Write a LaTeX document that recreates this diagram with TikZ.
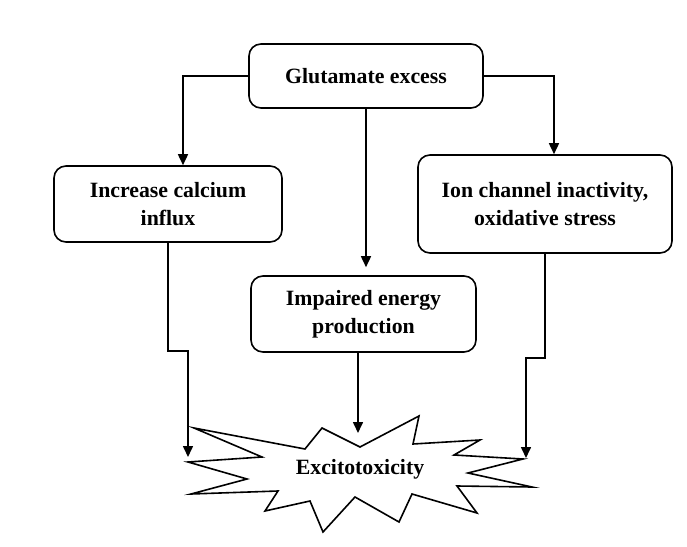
\documentclass[tikz,border=0pt]{standalone}
\usepackage{fontspec}
\setmainfont{Liberation Serif}
\usetikzlibrary{arrows.meta}
\begin{document}
\begin{tikzpicture}[x=0.5pt,y=-0.5pt,line width=0.8pt,
        box/.style={draw,rounded corners=6pt,align=center,font=\fontsize{10.9}{14}\selectfont\bfseries},
        arrow/.style={-{Triangle[length=5.5pt,width=5pt]}}]
    \useasboundingbox (0,0) rectangle (687,547);
    % boxes
    \node[box,minimum width=117pt,minimum height=32pt] (glut) at (366,76) {Glutamate excess};
    \node[box,minimum width=114pt,minimum height=38pt] (calc) at (168,204) {Increase calcium\\influx};
    \node[box,minimum width=127pt,minimum height=49pt] (ion) at (545,204) {Ion channel inactivity,\\oxidative stress};
    \node[box,minimum width=112.5pt,minimum height=38pt] (imp) at (363.5,314) {Impaired energy\\production};
    % starburst
    \draw (194,428) -- (305,449) -- (322,428) -- (360,447) -- (419,416) -- (413,444)
        -- (480,440) -- (454,455) -- (523,459) -- (468,473) -- (532,487) -- (457,486)
        -- (477,513) -- (412,494) -- (399,522) -- (355,497) -- (323,532) -- (310,501)
        -- (265,511) -- (278,491) -- (191,494) -- (247,479) -- (188,462) -- (262,457) -- cycle;
    \node[font=\fontsize{10.9}{14}\selectfont\bfseries] (excito) at (360,469) {Excitotoxicity};
    \coordinate (tipL) at (188,457);
    \coordinate (tipC) at (358,433);
    \coordinate (tipR) at (526,458);
    % connectors
    \draw[arrow] (glut.west) -| ([xshift=7.5pt]calc.north);
    \draw[arrow] (glut.east) -| ([xshift=4.5pt]ion.north);
    \draw[arrow] (glut.south) -- ([yshift=4pt]imp.north -| glut.south);
    \draw[arrow] (calc.south) -- ++(0,108) -| (tipL);
    \draw[arrow] (ion.south) -- ++(0,104) -| (tipR);
    \draw[arrow] (imp.south -| tipC) -- (tipC);
\end{tikzpicture}
\end{document}
